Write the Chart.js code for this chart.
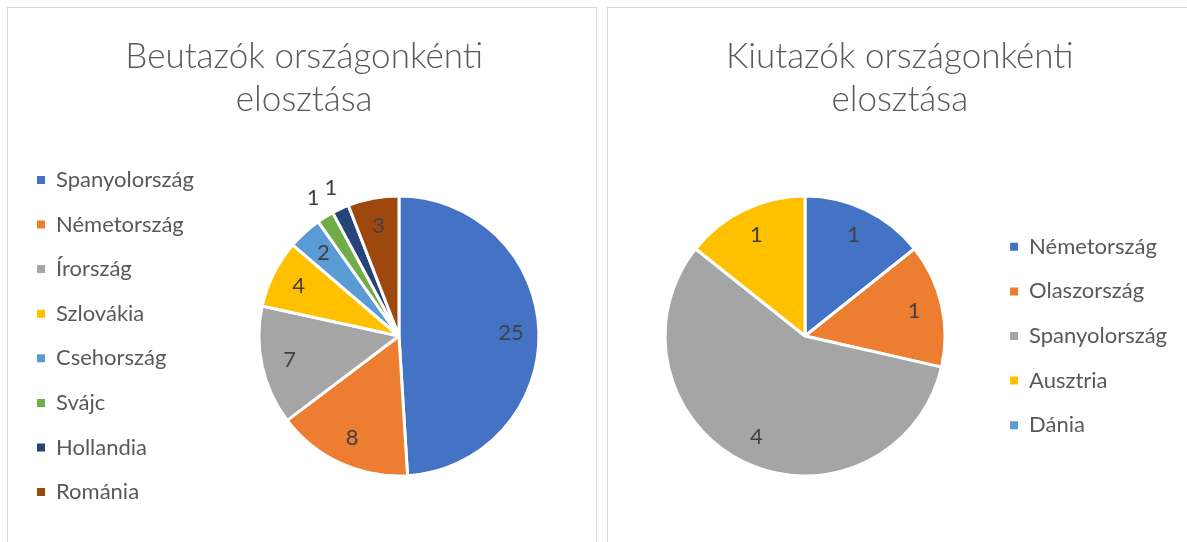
<!DOCTYPE html>
<html>
<head>
<meta charset="utf-8">
<script src="https://cdn.jsdelivr.net/npm/chart.js@4/dist/chart.umd.min.js"></script>
<style>
  html, body { margin: 0; padding: 0; background: #fff; overflow: hidden; }
  .panel {
    position: absolute; top: 7px; width: 590px; height: 580px;
    border: 1px solid #d9d9d9; box-sizing: border-box; background: #fff;
  }
  #p1 { left: 7px; }
  #p2 { left: 607px; }
  canvas { position: absolute; left: 0; top: 0; }
</style>
</head>
<body>
<div class="panel" id="p1"><canvas id="c1" width="588" height="578"></canvas></div>
<div class="panel" id="p2"><canvas id="c2" width="588" height="578"></canvas></div>
<script>
// beutazók / kiutazók adatai
const inCountries  = ['Spanyolország', 'Németország', 'Írország', 'Szlovákia', 'Csehország', 'Svájc', 'Hollandia', 'Románia'];
const inValues     = [25, 8, 7, 4, 2, 1, 1, 3];
const inColors     = ['#4472C4', '#ED7D31', '#A5A5A5', '#FFC000', '#5B9BD5', '#70AD47', '#264478', '#9E480E'];

const outCountries = ['Németország', 'Olaszország', 'Spanyolország', 'Ausztria', 'Dánia'];
const outValues    = [1, 1, 4, 1, 0];
const outColors    = ['#4472C4', '#ED7D31', '#A5A5A5', '#FFC000', '#5B9BD5'];

const FONT = 'Lato';

// számcímkék a szeletekre (kis szeleteknél kívül)
const sliceLabels = {
  id: 'sliceLabels',
  afterDatasetsDraw(chart) {
    const ctx  = chart.ctx;
    const meta = chart.getDatasetMeta(0);
    const data = chart.data.datasets[0].data;
    const total = data.reduce((a, b) => a + b, 0);
    ctx.save();
    ctx.font = `22px ${FONT}`;
    ctx.fillStyle = '#404040';
    ctx.textAlign = 'center';
    ctx.textBaseline = 'middle';
    meta.data.forEach((arc, i) => {
      const v = data[i];
      if (!v) return;
      const p = arc.getProps(['x', 'y', 'startAngle', 'endAngle', 'outerRadius'], true);
      const mid = (p.startAngle + p.endAngle) / 2;
      const d = v / total < 0.03 ? p.outerRadius + 23 : p.outerRadius * 0.8;
      ctx.fillText(String(v), p.x + Math.cos(mid) * d, p.y + Math.sin(mid) * d);
    });
    ctx.restore();
  }
};

function makePie(id, title, labels, values, colors, legendPos, padding) {
  return new Chart(document.getElementById(id), {
    type: 'pie',
    data: {
      labels: labels,
      datasets: [{
        data: values,
        backgroundColor: colors,
        borderColor: '#ffffff',
        borderWidth: 3,
        radius: 140
      }]
    },
    options: {
      responsive: false,
      animation: false,
      layout: { padding: padding },
      plugins: {
        title: {
          display: true,
          text: title,
          color: '#595959',
          font: { family: FONT, size: 35, weight: '300', lineHeight: 43 / 35 },
          padding: { top: 27.5, bottom: 18.5 }
        },
        legend: {
          position: legendPos,
          fullSize: false,
          labels: {
            color: '#595959',
            font: { family: FONT, size: 22 },
            boxWidth: 8,
            boxHeight: 8,
            padding: 22.6,
            generateLabels: chart =>
              Chart.overrides.pie.plugins.legend.labels.generateLabels(chart)
                .map(l => ({ ...l, lineWidth: 0, strokeStyle: 'rgba(0,0,0,0)' }))
          }
        },
        tooltip: { enabled: false }
      }
    },
    plugins: [sliceLabels]
  });
}

makePie('c1', ['Beutazók országonkénti', 'elosztása'], inCountries, inValues, inColors, 'left',
  { left: 6.4, right: 2, top: 0, bottom: 54 });
makePie('c2', ['Kiutazók országonkénti', 'elosztása'], outCountries, outValues, outColors, 'right',
  { left: 14.6, right: 19, top: 0, bottom: 54 });
</script>
</body>
</html>
